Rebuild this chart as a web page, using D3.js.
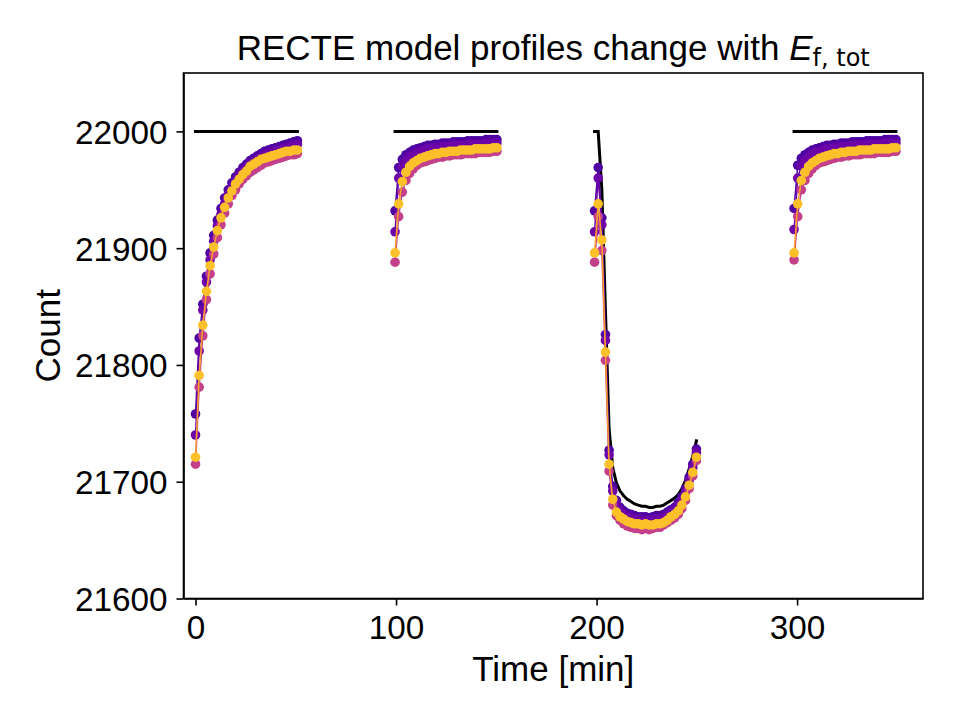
<!DOCTYPE html>
<html>
<head>
<meta charset="utf-8">
<script src="https://cdn.jsdelivr.net/npm/d3@7"></script>
<style>
  body { margin: 0; background: #fff; }
  svg { display: block; }
  text { font-family: "Liberation Sans", Arial, Helvetica, sans-serif; fill: #000; }
  .axis path, .axis line { stroke: #000; stroke-width: 1.6; }
</style>
</head>
<body>
<script>
// exposure times inside one orbit [min] and orbit start times [min]
const expOffset = [0, 1.81, 3.63, 5.44, 7.26, 9.07, 10.89, 12.7, 14.51, 16.33, 18.14, 19.96, 21.77, 23.59, 25.4,
  27.21, 29.03, 30.84, 32.66, 34.47, 36.29, 38.1, 39.91, 41.73, 43.54, 45.36, 47.17, 48.99, 50.8];
const orbitStart = [0, 99.5, 199, 298.5];

// model without ramp (black)
const modelO1 = [22000, 22000, 22000, 22000, 22000, 22000, 22000, 22000, 22000, 22000, 22000, 22000, 22000, 22000, 22000,
  22000, 22000, 22000, 22000, 22000, 22000, 22000, 22000, 22000, 22000, 22000, 22000, 22000, 22000];
const modelO2 = [22000, 22000, 22000, 22000, 22000, 22000, 22000, 22000, 22000, 22000, 22000, 22000, 22000, 22000, 22000,
  22000, 22000, 22000, 22000, 22000, 22000, 22000, 22000, 22000, 22000, 22000, 22000, 22000, 22000];
const modelO3 = [22000, 22000, 21950, 21846, 21745, 21712, 21699, 21692, 21688, 21685, 21683, 21681, 21680, 21679, 21679,
  21678, 21678, 21679, 21679, 21680, 21682, 21684, 21686, 21689, 21694, 21701, 21711, 21722, 21735];
const modelO4 = [22000, 22000, 22000, 22000, 22000, 22000, 22000, 22000, 22000, 22000, 22000, 22000, 22000, 22000, 22000,
  22000, 22000, 22000, 22000, 22000, 22000, 22000, 22000, 22000, 22000, 22000, 22000, 22000, 22000];

// RECTE profiles for the different E_f,tot values
const darkPurple = [
  [21758, 21823, 21852, 21876, 21896, 21911, 21924, 21934, 21943, 21950, 21956, 21961, 21965, 21969, 21972,
   21975, 21977, 21979, 21981, 21983, 21984, 21985, 21986, 21987, 21988, 21989, 21990, 21991, 21992],
  [21932, 21969, 21976, 21980, 21982, 21984, 21985, 21986, 21987, 21988, 21988, 21989, 21989, 21990, 21990,
   21990, 21991, 21991, 21991, 21991, 21992, 21992, 21992, 21992, 21992, 21993, 21993, 21993, 21993],
  [21932, 21969, 21926, 21826, 21727, 21696, 21684, 21678, 21675, 21673, 21672, 21671, 21670, 21670, 21670,
   21669, 21670, 21671, 21671, 21672, 21674, 21676, 21678, 21682, 21687, 21694, 21704, 21715, 21728],
  [21934, 21971, 21977, 21980, 21982, 21984, 21985, 21986, 21987, 21988, 21988, 21989, 21989, 21990, 21990,
   21990, 21991, 21991, 21991, 21991, 21992, 21992, 21992, 21992, 21992, 21993, 21993, 21993, 21993]
];
const purple = [
  [21740, 21812, 21847, 21871, 21890, 21906, 21919, 21929, 21938, 21946, 21952, 21957, 21962, 21966, 21969,
   21972, 21974, 21976, 21978, 21980, 21981, 21982, 21983, 21984, 21985, 21986, 21987, 21988, 21989],
  [21914, 21960, 21970, 21975, 21978, 21980, 21982, 21983, 21984, 21985, 21985, 21986, 21986, 21987, 21987,
   21987, 21988, 21988, 21988, 21988, 21989, 21989, 21989, 21989, 21989, 21990, 21990, 21990, 21990],
  [21914, 21960, 21920, 21821, 21723, 21692, 21681, 21675, 21672, 21670, 21669, 21668, 21667, 21667, 21667,
   21666, 21667, 21668, 21668, 21669, 21671, 21673, 21676, 21679, 21684, 21691, 21701, 21712, 21725],
  [21916, 21960, 21970, 21975, 21978, 21980, 21982, 21983, 21984, 21985, 21985, 21986, 21986, 21987, 21987,
   21987, 21988, 21988, 21988, 21988, 21989, 21989, 21989, 21989, 21989, 21990, 21990, 21990, 21990]
];
const magenta = [
  [21715, 21781, 21825, 21856, 21878, 21895, 21909, 21920, 21930, 21938, 21945, 21950, 21955, 21959, 21962,
   21965, 21967, 21969, 21971, 21973, 21974, 21975, 21976, 21977, 21978, 21979, 21980, 21980, 21981],
  [21888, 21927, 21948, 21958, 21964, 21968, 21971, 21973, 21974, 21975, 21976, 21977, 21978, 21978, 21979,
   21979, 21980, 21980, 21980, 21981, 21981, 21981, 21981, 21982, 21982, 21982, 21982, 21983, 21983],
  [21888, 21927, 21898, 21804, 21709, 21680, 21671, 21667, 21664, 21662, 21661, 21660, 21660, 21659, 21660,
   21659, 21660, 21661, 21661, 21663, 21665, 21667, 21669, 21672, 21677, 21684, 21694, 21705, 21718],
  [21890, 21927, 21950, 21958, 21964, 21968, 21971, 21973, 21974, 21975, 21976, 21977, 21978, 21978, 21979,
   21979, 21980, 21980, 21980, 21981, 21981, 21981, 21981, 21982, 21982, 21982, 21982, 21983, 21983]
];
const yellow = [
  [21721, 21791, 21834, 21863, 21885, 21901, 21915, 21926, 21935, 21943, 21949, 21955, 21959, 21963, 21966,
   21970, 21972, 21974, 21976, 21977, 21978, 21979, 21980, 21981, 21982, 21983, 21983, 21984, 21984],
  [21896, 21938, 21957, 21965, 21970, 21973, 21975, 21977, 21978, 21979, 21980, 21981, 21981, 21982, 21982,
   21983, 21983, 21983, 21984, 21984, 21984, 21984, 21985, 21985, 21985, 21985, 21985, 21986, 21986],
  [21896, 21938, 21907, 21811, 21715, 21685, 21674, 21670, 21668, 21666, 21665, 21664, 21664, 21663, 21664,
   21663, 21663, 21664, 21664, 21665, 21667, 21670, 21672, 21675, 21680, 21687, 21697, 21708, 21721],
  [21896, 21938, 21958, 21965, 21970, 21973, 21975, 21977, 21978, 21979, 21980, 21981, 21981, 21982, 21982,
   21983, 21983, 21983, 21984, 21984, 21984, 21984, 21985, 21985, 21985, 21985, 21985, 21986, 21986]
];

const xTicks = [0, 100, 200, 300];
const yTicks = [21600, 21700, 21800, 21900, 22000];

const width = 960, height = 720;
const margin = {left: 183.5, right: 37, top: 73, bottom: 121.5};

const svg = d3.select("body").append("svg")
  .attr("width", width)
  .attr("height", height);

const x = d3.scaleLinear()
  .domain([-6, 362.8])
  .range([margin.left, width - margin.right]);

const y = d3.scaleLinear()
  .domain([21600, 22050])
  .range([height - margin.bottom, margin.top]);

const models = [modelO1, modelO2, modelO3, modelO4];

const series = [
  {vals: darkPurple, dot: "#4e02a2", line: "#4e02a2"},
  {vals: purple, dot: "#6c04a8", line: "#6c04a8"},
  {vals: magenta, dot: "#c4408a", line: "#c4408a"},
  {vals: yellow, dot: "#fcc02b", line: "#f8a02c"}
];

const line = d3.line()
  .x(d => x(d.t))
  .y(d => y(d.v));

const plot = svg.append("g");

// black model, one segment per orbit
models.forEach(function(m, o){
  const pts = m.map((v, i) => ({t: orbitStart[o] + expOffset[i], v: v}));
  plot.append("path")
    .datum(pts)
    .attr("d", line)
    .attr("fill", "none")
    .attr("stroke", "#000")
    .attr("stroke-width", 3)
    .attr("stroke-linecap", "square");
});

series.forEach(function(s){
  const g = plot.append("g");
  s.vals.forEach(function(orbit, o){
    const pts = orbit.map((v, i) => ({t: orbitStart[o] + expOffset[i], v: v}));
    g.append("path")
      .datum(pts)
      .attr("d", line)
      .attr("fill", "none")
      .attr("stroke", s.line)
      .attr("stroke-width", 1.5);
    g.selectAll(null)
      .data(pts)
      .enter().append("circle")
      .attr("cx", d => x(d.t))
      .attr("cy", d => y(d.v))
      .attr("r", 4.8)
      .attr("fill", s.dot);
  });
});

// axes
const xAxis = svg.append("g")
  .attr("class", "axis")
  .attr("transform", "translate(0," + (height - margin.bottom) + ")")
  .call(d3.axisBottom(x).tickValues(xTicks).tickSize(7).tickPadding(8).tickSizeOuter(0));
xAxis.selectAll("text").attr("font-size", 33.3).attr("dy", "0.76em");

const yAxis = svg.append("g")
  .attr("class", "axis")
  .attr("transform", "translate(" + margin.left + ",0)")
  .call(d3.axisLeft(y).tickValues(yTicks).tickFormat(d3.format("d")).tickSize(7).tickPadding(9).tickSizeOuter(0));
yAxis.selectAll("text").attr("font-size", 33.3).attr("dy", "0.36em");

// frame
svg.append("rect")
  .attr("x", margin.left)
  .attr("y", margin.top)
  .attr("width", width - margin.left - margin.right)
  .attr("height", height - margin.top - margin.bottom)
  .attr("fill", "none")
  .attr("stroke", "#000")
  .attr("stroke-width", 1.6);

svg.append("text")
  .attr("x", (margin.left + width - margin.right) / 2)
  .attr("y", 681)
  .attr("text-anchor", "middle")
  .attr("font-size", 35)
  .text("Time [min]");

svg.append("text")
  .attr("transform", "translate(60," + ((margin.top + height - margin.bottom) / 2) + ") rotate(-90)")
  .attr("text-anchor", "middle")
  .attr("font-size", 35)
  .text("Count");

const title = svg.append("text")
  .attr("x", (margin.left + width - margin.right) / 2)
  .attr("y", 60)
  .attr("text-anchor", "middle")
  .attr("font-size", 35);
title.append("tspan").text("RECTE model profiles change with ");
title.append("tspan").attr("font-style", "italic").text("E");
title.append("tspan")
  .attr("font-family", "DejaVu Sans")
  .attr("font-size", 24)
  .attr("dy", 6)
  .text("f, tot");
</script>
</body>
</html>
